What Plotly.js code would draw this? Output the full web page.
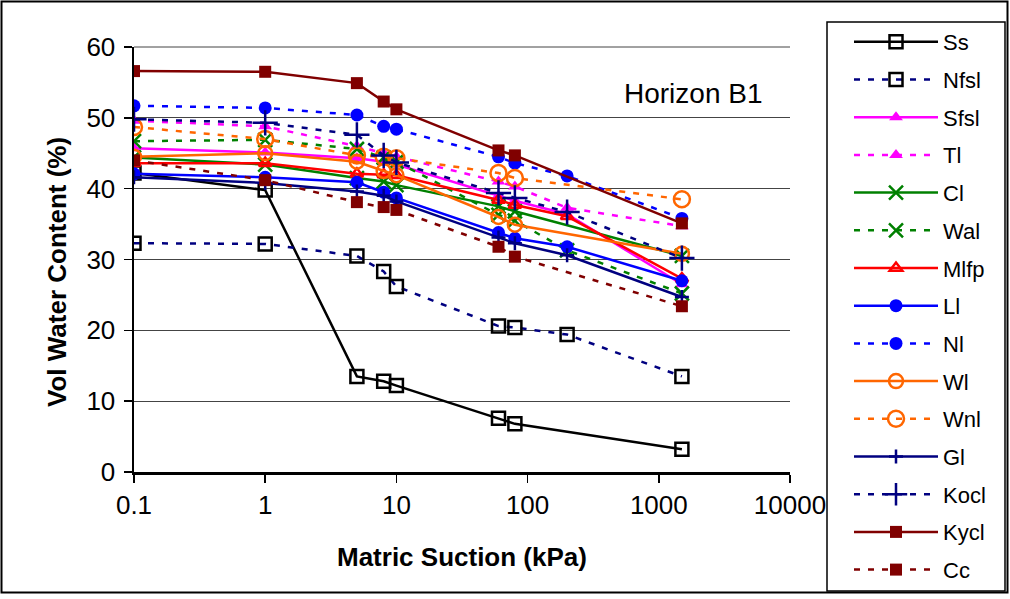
<!DOCTYPE html>
<html>
<head>
<meta charset="utf-8">
<script src="https://cdn.plot.ly/plotly-3.0.1.min.js"></script>
<style>html,body{margin:0;padding:0;background:#fff;}#chart{width:1010px;height:599px;}</style>
</head>
<body>
<div id="chart"></div>
<script>
// Matric suction (kPa)
var suction = [0.1, 1, 5, 8, 10, 60, 80, 200, 1500];

// Volumetric water content (%) per soil, null = not measured
var Ss   = [42.2, 39.8, 13.5, 12.8, 12.2, 7.6, 6.8, null, 3.2];
var Nfsl = [32.3, 32.2, 30.5, 28.3, 26.2, 20.6, 20.4, 19.4, 13.5];
var Sfsl = [45.7, 45.1, 44.3, 43.8, 43.4, 39.0, 38.3, 36.4, 26.5];
var Tl   = [49.6, 48.8, 46.0, 45.0, 44.5, 41.0, 40.3, 37.3, 34.7];
var Cl   = [44.4, 43.4, 41.5, 41.0, 40.5, 37.5, 36.8, null, 30.5];
var Wal  = [46.7, 46.9, 45.6, 44.4, 43.8, 36.3, 35.5, 31.3, 25.2];
var Mlfp = [43.6, 43.6, 42.1, 42.0, 41.9, 38.4, 37.7, 36.1, 27.3];
var Ll   = [42.1, 41.6, 40.9, 39.5, 38.7, 33.8, 33.0, 31.8, 27.0];
var Nl   = [51.7, 51.4, 50.4, 48.8, 48.4, 44.5, 43.6, 41.8, 35.8];
var Wl   = [44.5, 45.0, 43.8, 42.5, 41.9, 36.0, 34.9, null, 30.8];
var Wnl  = [48.7, 47.0, 44.7, 44.5, 44.3, 42.2, 41.5, null, 38.5];
var Gl   = [41.6, 40.8, 39.6, 39.0, 38.2, 33.1, 32.3, 30.6, 24.7];
var Kocl = [49.8, 49.3, 47.6, 44.7, 43.7, 39.4, 38.7, 36.7, 30.2];
var Kycl = [56.6, 56.5, 54.9, 52.3, 51.2, 45.4, 44.7, null, 35.1];
var Cc   = [44.0, 41.2, 38.1, 37.4, 37.0, 31.8, 30.4, null, 23.4];

var xTickVals = [0.1, 1, 10, 100, 1000, 10000];
var xTickText = ['0.1', '1', '10', '100', '1000', '10000'];

var DASH = '6px,8px';
var LW = 2.5;

function tr(name, y, color, dash, symbol, msize, mcolor, mlw) {
  return {
    x: suction, y: y, name: name, type: 'scatter', mode: 'lines+markers',
    connectgaps: true, legendgroup: name,
    line: {color: color, width: LW, dash: dash},
    marker: {symbol: symbol, size: msize, color: mcolor || color,
             line: {color: mcolor || color, width: mlw === undefined ? 2.5 : mlw}}
  };
}

var data = [
  tr('Ss',   Ss,   '#000000', 'solid', 'square-open', 13, '#000000'),
  tr('Nfsl', Nfsl, '#000080', DASH,    'square-open', 13, '#000000'),
  tr('Sfsl', Sfsl, '#FF00FF', 'solid', 'triangle-up', 12, null, 0),
  tr('Tl',   Tl,   '#FF00FF', DASH,    'triangle-up', 12, null, 0),
  tr('Cl',   Cl,   '#008000', 'solid', 'x-thin-open', 14, null, 2.5),
  tr('Wal',  Wal,  '#008000', DASH,    'x-thin-open', 14, null, 2.5),
  tr('Mlfp', Mlfp, '#FF0000', 'solid', 'triangle-up-open', 11, null, 2.5),
  tr('Ll',   Ll,   '#0000FF', 'solid', 'circle', 13, null, 0),
  tr('Nl',   Nl,   '#0000FF', DASH,    'circle', 13, null, 0),
  tr('Wl',   Wl,   '#FF6600', 'solid', 'circle-open', 14, null, 2.5),
  tr('Wnl',  Wnl,  '#FF6600', DASH,    'circle-open', 16, null, 2.5),
  tr('Gl',   Gl,   '#000080', 'solid', 'cross-thin-open', 10, null, 2.5),
  tr('Kocl', Kocl, '#000080', DASH,    'cross-thin-open', 18, null, 2.5),
  tr('Kycl', Kycl, '#800000', 'solid', 'square', 12, null, 0),
  tr('Cc',   Cc,   '#800000', DASH,    'square', 12, null, 0)
];

var PW = 656, PH = 425, L = 134, T = 47;
function px(x) { return (x - L) / PW; }
function py(y) { return (T + PH - y) / PH; }

var layout = {
  width: 1010, height: 599,
  margin: {l: L, r: 1010 - L - PW, t: T, b: 599 - T - PH, pad: 0, autoexpand: false},
  paper_bgcolor: '#ffffff', plot_bgcolor: '#ffffff',
  font: {family: 'Liberation Sans, Arial, sans-serif', size: 20, color: '#000'},
  showlegend: true,
  legend: {
    x: px(849), xanchor: 'left',
    yref: 'container', y: 1 - 21 / 599, yanchor: 'top',
    maxheight: 599,
    bgcolor: 'rgba(0,0,0,0)', borderwidth: 0,
    font: {size: 22, color: '#000'},
    traceorder: 'grouped', tracegroupgap: 6.1, itemwidth: 84
  },
  xaxis: {
    type: 'log', range: [-1, 4], automargin: false,
    tickvals: xTickVals, ticktext: xTickText,
    ticks: 'outside', ticklen: 8, tickwidth: 1.5, tickcolor: '#000',
    showline: true, linecolor: '#000', linewidth: 2.5,
    showgrid: false, zeroline: false,
    tickfont: {size: 26}
  },
  yaxis: {
    range: [0, 60], dtick: 10, tick0: 0, automargin: false,
    ticks: 'outside', ticklen: 8, tickwidth: 1.5, tickcolor: '#000',
    ticklabelstandoff: 3,
    showline: true, linecolor: '#000', linewidth: 2.5,
    showgrid: true, gridcolor: '#444', gridwidth: 1, zeroline: false,
    tickfont: {size: 26}
  },
  annotations: [
    {xref: 'paper', yref: 'paper', x: px(693), y: py(93),
     xanchor: 'center', yanchor: 'middle', showarrow: false,
     text: 'Horizon B1', font: {size: 28}},
    {xref: 'paper', yref: 'paper', x: px(462), y: py(557),
     xanchor: 'center', yanchor: 'middle', showarrow: false,
     text: '<b>Matric Suction (kPa)</b>', font: {size: 26}},
    {xref: 'paper', yref: 'paper', x: px(57), y: py(272),
     xanchor: 'center', yanchor: 'middle', showarrow: false, textangle: -90,
     text: '<b>Vol Water Content (%)</b>', font: {size: 26}}
  ],
  shapes: [
    {type: 'rect', xref: 'paper', yref: 'paper', layer: 'below',
     x0: px(1.5), x1: px(1007.5), y0: py(592.5), y1: py(1.5),
     line: {color: '#000', width: 2}},
    {type: 'rect', xref: 'paper', yref: 'paper', layer: 'below',
     x0: px(827), x1: px(1005), y0: py(591), y1: py(22),
     line: {color: '#000', width: 1.5}},
    {type: 'line', xref: 'paper', yref: 'paper', layer: 'below',
     x0: 0, x1: 1, y0: 1, y1: 1, line: {color: '#444', width: 1}}
  ]
};

Plotly.newPlot('chart', data, layout, {staticPlot: true, displayModeBar: false});
</script>
</body>
</html>
